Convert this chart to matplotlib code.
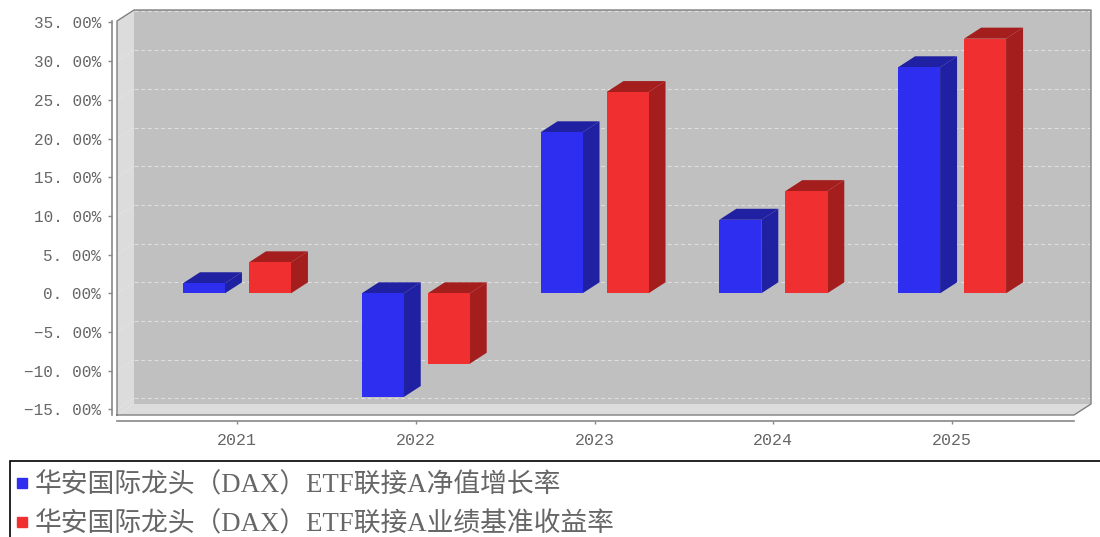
import matplotlib
matplotlib.use('Agg')
import matplotlib.pyplot as plt
from matplotlib.lines import Line2D
from matplotlib.patches import Polygon

# valores
years = ['2021', '2022', '2023', '2024', '2025']
nav_growth = [1.3, -13.4, 20.8, 9.5, 29.2]
benchmark = [4.0, -9.1, 26.0, 13.2, 32.9]
y_ticks = [35, 30, 25, 20, 15, 10, 5, 0, -5, -10, -15]
y_labels = ['35. 00%', '30. 00%', '25. 00%', '20. 00%', '15. 00%', '10. 00%', '5. 00%',
            '0. 00%', '\u22125. 00%', '\u221210. 00%', '\u221215. 00%']
legend_names = ['华安国际龙头（DAX）ETF联接A净值增长率', '华安国际龙头（DAX）ETF联接A业绩基准收益率']

W, H = 1100, 537
GRAY = '#666666'
mono = ['Liberation Mono', 'Noto Sans CJK SC']

fig = plt.figure(figsize=(W / 100, H / 100), dpi=100)
ax = fig.add_axes([117 / W, 1 - 415 / H, (1074 - 117) / W, (415 - 21) / H])
ax.set_xlim(-0.671, 4.682)
ax.set_ylim(-15.72, 35.18)

# profundidad 3D en unidades de datos
dx = 17 / 178.8
dy = 11 / 7.74
x0, x1 = ax.get_xlim()
y0, y1 = ax.get_ylim()


def poly(pts, color, z, edge='none', lw=0.0):
    ax.add_patch(Polygon(pts, closed=True, facecolor=color, edgecolor=edge, linewidth=lw,
                         zorder=z, clip_on=False))


# paredes
poly([(x0 + dx, y0 + dy), (x1 + dx, y0 + dy), (x1 + dx, y1 + dy), (x0 + dx, y1 + dy)], '#c0c0c0', 1)
poly([(x0, y0), (x0 + dx, y0 + dy), (x0 + dx, y1 + dy), (x0, y1)], '#dcdcdc', 1)
poly([(x0, y0), (x1, y0), (x1 + dx, y0 + dy), (x0 + dx, y0 + dy)], '#dcdcdc', 1)

for v in y_ticks:
    ax.plot([x0 + dx, x1 + dx], [v + dy, v + dy], color='#dedede', lw=0.8, ls=(0, (3.5, 2.5)), zorder=2, clip_on=False)
    ax.plot([x0, x0 + dx], [v, v + dy], color='#e6e6e6', lw=0.6, ls=(0, (3, 2)), zorder=2, clip_on=False)

# contorno
ax.plot([x0, x0, x0 + dx, x1 + dx, x1 + dx, x1, x0], [y0, y1, y1 + dy, y1 + dy, y0 + dy, y0, y0],
        color='#7f7f7f', lw=1.0, zorder=3, clip_on=False)


def bar3d(x, val, w, front, dark):
    lo, hi = min(0, val), max(0, val)
    l, r = x - w / 2, x + w / 2
    poly([(r, lo), (r + dx, lo + dy), (r + dx, hi + dy), (r, hi)], dark, 5)
    poly([(l, hi), (r, hi), (r + dx, hi + dy), (l + dx, hi + dy)], dark, 5)
    ax.bar(x, val, width=w, color=front, zorder=6)


bar_w = 42 / 178.8
off = 33 / 178.8
for i in range(len(years)):
    bar3d(i - off, nav_growth[i], bar_w, '#2e2ef0', '#2020a2')
    bar3d(i + off, benchmark[i], bar_w, '#f03030', '#a51e1e')

# ejes
ax.patch.set_visible(False)
for s in ['top', 'right']:
    ax.spines[s].set_visible(False)
ax.spines['left'].set_position(('outward', 3.6))
ax.spines['bottom'].set_position(('outward', 4.3))
for s in ['left', 'bottom']:
    ax.spines[s].set_color('#888888')
    ax.spines[s].set_linewidth(1.2)
ax.set_yticks(y_ticks)
ax.set_yticklabels(y_labels, family=mono, fontsize=11.5, color=GRAY)
ax.set_xticks(range(len(years)))
ax.set_xticklabels(years, family=mono, fontsize=12, color=GRAY)
ax.tick_params(axis='y', length=3, width=1, color='#888888', pad=5)
ax.tick_params(axis='x', length=2.5, width=1, color='#888888', pad=6)

handles = [Line2D([], [], marker='s', ls='none', ms=7.5, color='#2e2ef0'),
           Line2D([], [], marker='s', ls='none', ms=7.5, color='#f03030')]
leg = fig.legend(handles, legend_names, loc='upper left', mode='expand',
                 bbox_to_anchor=(10 / W, -5 / H, 1100 / W, (537 - 461 + 5) / H), borderaxespad=0,
                 frameon=True, fancybox=False, edgecolor='black', framealpha=1,
                 prop={'family': ['Liberation Serif', 'Noto Sans CJK SC'], 'size': 19.3},
                 labelcolor=GRAY, handlelength=0.0, handletextpad=0.47, borderpad=0.44, labelspacing=0.5)
leg.get_frame().set_linewidth(1.2)

fig.savefig('out.png', dpi=100)
